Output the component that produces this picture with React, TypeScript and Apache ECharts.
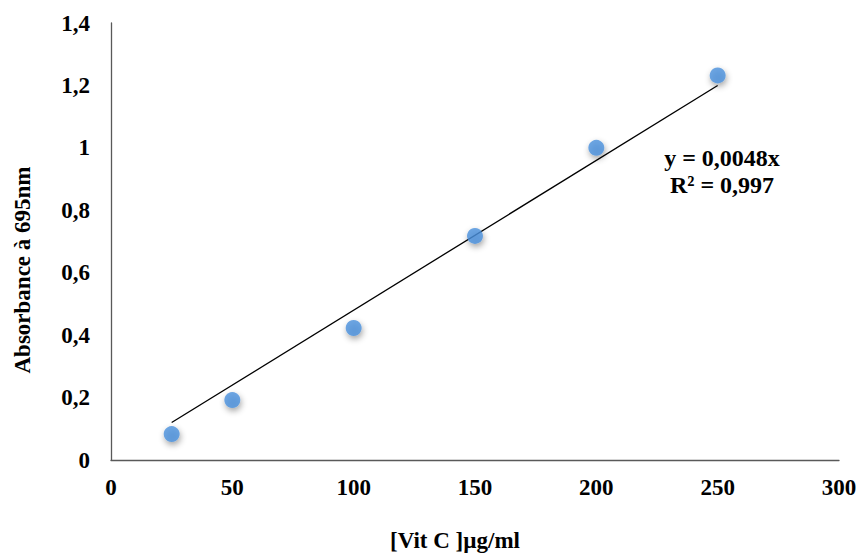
import React, { useEffect, useRef } from "react";
import * as echarts from "echarts";

const concentrations = [25, 50, 100, 150, 200, 250];
const absorbances = [0.083, 0.192, 0.423, 0.718, 1.0, 1.232];
const trendX = [25, 250];
const trendY = [0.12, 1.2];
const equationLines = ["y = 0,0048x", "R² = 0,997"];
const xTitle = "[Vit C ]µg/ml";
const yTitle = "Absorbance à 695nm";

const FONT = "'Liberation Serif', 'Times New Roman', serif";

export default function App() {
  const ref = useRef<HTMLDivElement>(null);
  useEffect(() => {
    document.body.style.margin = "0";
    if (!ref.current) return;
    const chart = echarts.init(ref.current, undefined, { renderer: "svg" });
    chart.setOption({
      animation: false,
      backgroundColor: "#ffffff",
      grid: { left: 111, right: 25, top: 23, bottom: 96, containLabel: false },
      xAxis: {
        type: "value",
        min: 0,
        max: 300,
        interval: 50,
        axisLine: { show: true, lineStyle: { color: "#595959", width: 1.3 } },
        axisTick: { show: false },
        splitLine: { show: false },
        axisLabel: { fontFamily: FONT, fontWeight: "bold", fontSize: 23, color: "#000", margin: 16 },
      },
      yAxis: {
        type: "value",
        min: 0,
        max: 1.4,
        interval: 0.2,
        axisLine: { show: true, lineStyle: { color: "#595959", width: 1.3 } },
        axisTick: { show: false },
        splitLine: { show: false },
        axisLabel: {
          fontFamily: FONT,
          fontWeight: "bold",
          fontSize: 23,
          color: "#000",
          margin: 21,
          formatter: (v: number) => String(Math.round(v * 10) / 10).replace(".", ","),
        },
      },
      series: [
        {
          type: "line",
          data: trendX.map((x, i) => [x, trendY[i]]),
          symbol: "none",
          lineStyle: { color: "#000", width: 1.3 },
          z: 1,
        },
        {
          type: "scatter",
          data: concentrations.map((x, i) => [x, absorbances[i]]),
          symbol: "circle",
          symbolSize: 16,
          itemStyle: {
            color: "#4a90dc",
            shadowBlur: 6,
            shadowColor: "rgba(0,0,0,0.45)",
            shadowOffsetX: 1,
            shadowOffsetY: 3,
          },
          z: 2,
        },
      ],
      graphic: [
        {
          type: "text",
          x: 722,
          y: 171,
          style: {
            text: equationLines.join("\n"),
            fontFamily: FONT,
            fontWeight: "bold",
            fontSize: 24,
            lineHeight: 27,
            fill: "#000",
            align: "center",
            verticalAlign: "middle",
          },
        },
        {
          type: "text",
          x: 455,
          y: 540,
          style: {
            text: xTitle,
            fontFamily: FONT,
            fontWeight: "bold",
            fontSize: 23,
            fill: "#000",
            align: "center",
            verticalAlign: "middle",
          },
        },
        {
          type: "text",
          x: 22,
          y: 270,
          rotation: Math.PI / 2,
          style: {
            text: yTitle,
            fontFamily: FONT,
            fontWeight: "bold",
            fontSize: 23,
            fill: "#000",
            align: "center",
            verticalAlign: "middle",
          },
        },
      ],
    });
    return () => chart.dispose();
  }, []);
  return <div ref={ref} style={{ width: 864, height: 556 }} />;
}
